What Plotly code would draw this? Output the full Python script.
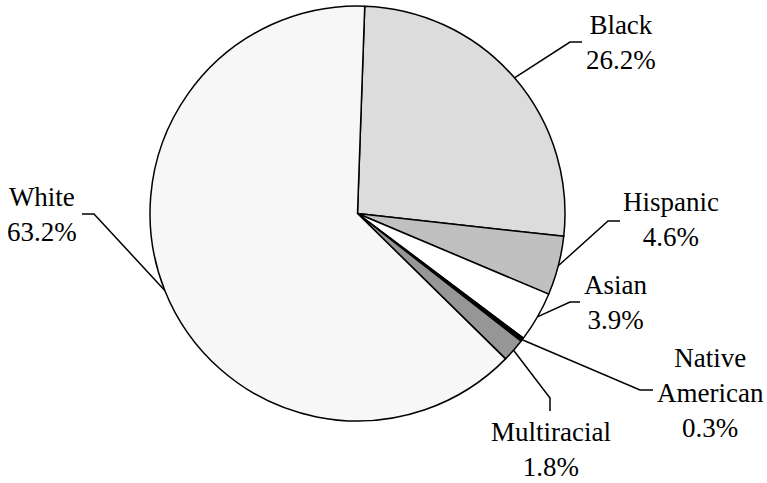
import math
import plotly.graph_objects as go

# ---- data ----
labels = ["Black", "Hispanic", "Asian", "Native American", "Multiracial", "White"]
values = [26.2, 4.6, 3.9, 0.3, 1.8, 63.2]
label_lines = ["Black", "Hispanic", "Asian", "Native<br>American", "Multiracial", "White"]
colors = ["#dcdcdc", "#c0c0c0", "#ffffff", "#000000", "#969696", "#f7f7f7"]

# ---- layout constants (pixels) ----
W, H = 767, 483
CX, CY, R = 357.5, 213.5, 207.5
ROT = 2  # degrees clockwise from 12 o'clock
FONT = "Liberation Serif"
FS = 27

# text centre x, y ; leader elbow x, y ; leader end x, y
label_layout = [
    (621, 43, 570, 42, 582, 42),
    (671, 219, 608, 221, 620, 221),
    (615, 302, 570, 302, 580, 302),
    (710, 393, 640, 390, 653, 390),
    (551, 449, 550, 398, 550, 411),
    (42, 214, 94, 214, 82, 214),
]


def px(x):
    return x / W


def py(y):
    return 1 - y / H


fig = go.Figure(
    go.Pie(
        labels=labels,
        values=values,
        sort=False,
        direction="clockwise",
        rotation=ROT,
        marker=dict(colors=colors, line=dict(color="#000000", width=1.5)),
        textinfo="none",
        hoverinfo="label+percent",
        showlegend=False,
        domain=dict(x=[px(CX - R), px(CX + R)], y=[py(CY + R), py(CY - R)]),
    )
)

total = sum(values)
cum = 0.0
shapes = []
annotations = []
for name, lines, v, lay in zip(labels, label_lines, values, label_layout):
    mid = (cum + v / 2) / total * 360 + ROT
    cum += v
    ex = CX + R * math.sin(math.radians(mid))
    ey = CY - R * math.cos(math.radians(mid))
    tx, ty, bx, by, dx, dy = lay
    shapes.append(
        dict(
            type="path",
            xref="paper",
            yref="paper",
            path=f"M {px(ex)},{py(ey)} L {px(bx)},{py(by)} L {px(dx)},{py(dy)}",
            line=dict(color="#000000", width=1.5),
        )
    )
    annotations.append(
        dict(
            x=px(tx),
            y=py(ty),
            xref="paper",
            yref="paper",
            xanchor="center",
            yanchor="middle",
            text=f"{lines}<br>{v:.1f}%",
            showarrow=False,
            align="center",
            font=dict(family=FONT, size=FS, color="#000000"),
        )
    )

fig.update_layout(
    width=W,
    height=H,
    margin=dict(l=0, r=0, t=0, b=0),
    paper_bgcolor="#ffffff",
    plot_bgcolor="#ffffff",
    shapes=shapes,
    annotations=annotations,
    font=dict(family=FONT, size=FS, color="#000000"),
)

fig.write_html("out.html", config={"displayModeBar": False})

# remove the default page margin so the figure sits at the window's corner
with open("out.html", encoding="utf-8") as f:
    html = f.read()
html = html.replace("<body>", '<body style="margin:0;padding:0;">', 1)
html = html.replace("<head>", '<head><style>html,body{margin:0;padding:0;overflow:hidden;}</style>', 1)
with open("out.html", "w", encoding="utf-8") as f:
    f.write(html)
